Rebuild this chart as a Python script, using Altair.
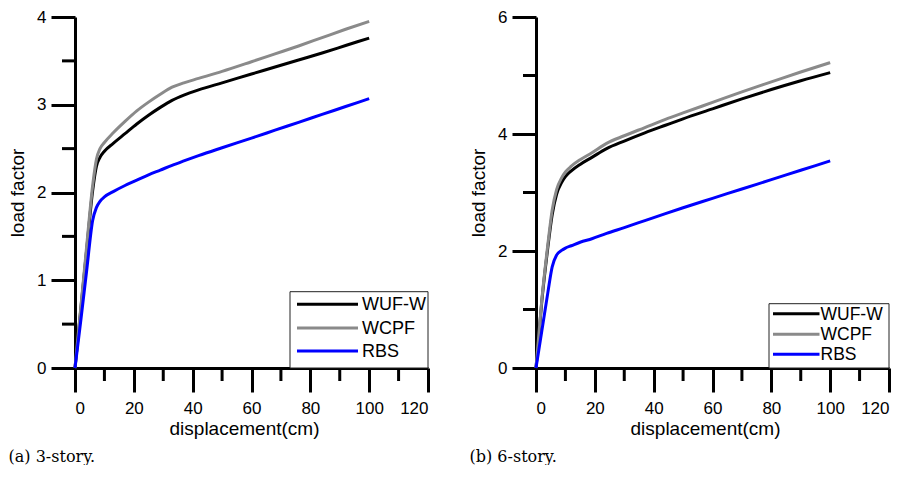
import altair as alt
import pandas as pd

series = ["WUF-W", "WCPF", "RBS"]
colors = ["#000000", "#8a8a8a", "#0000ff"]

# (a) 3-story
disp_3 = [0, 2, 4, 6, 7.3, 8.5, 10, 13, 17, 21, 25, 29, 33, 37, 42, 50, 60, 68, 76, 84, 92, 100]
wufw_3 = [0, 0.68, 1.36, 2.02, 2.30, 2.40, 2.47, 2.56, 2.67, 2.78, 2.88, 2.97, 3.05, 3.11, 3.17, 3.25, 3.35, 3.43, 3.51, 3.59, 3.675, 3.76]
wcpf_3 = [0, 0.70, 1.40, 2.08, 2.38, 2.50, 2.57, 2.68, 2.81, 2.93, 3.03, 3.12, 3.20, 3.25, 3.30, 3.38, 3.49, 3.58, 3.67, 3.765, 3.86, 3.95]
rbs_3 = [0, 0.55, 1.12, 1.68, 1.83, 1.90, 1.95, 2.01, 2.08, 2.14, 2.20, 2.255, 2.31, 2.36, 2.42, 2.51, 2.62, 2.71, 2.80, 2.89, 2.98, 3.07]

# (b) 6-story
disp_6 = [0, 2, 4, 5.5, 7, 8.7, 10, 12, 15, 19, 24, 30, 37, 44, 50, 60, 70, 80, 90, 100]
wufw_6 = [0, 1.15, 2.05, 2.62, 2.97, 3.17, 3.27, 3.37, 3.48, 3.60, 3.75, 3.88, 4.02, 4.15, 4.26, 4.43, 4.60, 4.76, 4.91, 5.05]
wcpf_6 = [0, 1.18, 2.10, 2.70, 3.05, 3.25, 3.35, 3.45, 3.56, 3.68, 3.84, 3.97, 4.11, 4.25, 4.36, 4.54, 4.72, 4.89, 5.06, 5.22]
rbs_6 = [0, 0.64, 1.28, 1.73, 1.93, 2.01, 2.05, 2.09, 2.15, 2.21, 2.30, 2.40, 2.52, 2.64, 2.74, 2.90, 3.06, 3.22, 3.38, 3.54]

x_major = [0, 20, 40, 60, 80, 100, 120]
x_minor = [10, 30, 50, 70, 90, 110]
y3_major = [0, 1, 2, 3, 4]
y3_minor = [0.5, 1.5, 2.5, 3.5]
y6_major = [0, 2, 4, 6]
y6_minor = [1, 3, 5]

W, H = 353, 351
FONT = "Liberation Sans"
ONE = pd.DataFrame({"n": [0]})


def legend_layers(box_left, box_top, sym_x1, sym_x2, text_x, rows, fsize):
    layers = [
        alt.Chart(ONE).mark_rect(fill="white", stroke="#222222", strokeWidth=1).encode(
            x=alt.value(box_left), x2=alt.value(W), y=alt.value(H - box_top), y2=alt.value(H))
    ]
    for name, col, ry in zip(series, colors, rows):
        layers.append(alt.Chart(ONE).mark_rule(color=col, strokeWidth=3).encode(
            x=alt.value(sym_x1), x2=alt.value(sym_x2), y=alt.value(H - ry)))
        layers.append(alt.Chart(ONE).mark_text(
            align="left", baseline="middle", font=FONT, fontSize=fsize, color="black", dy=1
        ).encode(x=alt.value(text_x), y=alt.value(H - ry), text=alt.value(name)))
    return layers


def panel(disp, curves, ymax, ymaj, ymin, caption, leg):
    rows = []
    for name, vals in zip(series, curves):
        for d, v in zip(disp, vals):
            rows.append({"d": d, "L": v, "series": name})
    df = pd.DataFrame(rows)
    xs = alt.Scale(domain=[0, 120], nice=False, zero=False)
    ys = alt.Scale(domain=[0, ymax], nice=False, zero=False)
    xaxis = alt.Axis(values=x_major, title="displacement(cm)", tickSize=24, format="d",
                     labelPadding=8, titlePadding=3, titleX=169, grid=False)
    yaxis = alt.Axis(values=ymaj, title="load factor", tickSize=24, format="d",
                     labelPadding=5, titlePadding=9, grid=False)
    lines = alt.Chart(df).mark_line(strokeWidth=3, interpolate="monotone").encode(
        x=alt.X("d:Q", scale=xs, axis=xaxis),
        y=alt.Y("L:Q", scale=ys, axis=yaxis),
        color=alt.Color("series:N", scale=alt.Scale(domain=series, range=colors), legend=None),
    )
    xm = alt.Chart(pd.DataFrame({"d": x_minor})).mark_rule(color="black", strokeWidth=3).encode(
        x=alt.X("d:Q", scale=xs), y=alt.value(H), y2=alt.value(H + 13))
    ym = alt.Chart(pd.DataFrame({"L": ymin})).mark_rule(color="black", strokeWidth=3).encode(
        y=alt.Y("L:Q", scale=ys), x=alt.value(0), x2=alt.value(-13))
    return alt.layer(xm, ym, lines, *legend_layers(**leg)).properties(
        width=W, height=H,
        title=alt.TitleParams(caption, orient="bottom", anchor="start", frame="bounds",
                              font="DejaVu Serif", fontSize=16, fontWeight="normal",
                              color="black", offset=11),
    )


# legend geometry measured up from the bottom of the plot
leg3 = dict(box_left=215, box_top=76.3, sym_x1=222, sym_x2=283, text_x=287,
            rows=[63.7, 40, 17], fsize=18)
leg6 = dict(box_left=233, box_top=64.3, sym_x1=237, sym_x2=283.5, text_x=284.5,
            rows=[54.3, 33.7, 13.7], fsize=17.5)

left = panel(disp_3, [wufw_3, wcpf_3, rbs_3], 4, y3_major, y3_minor, "(a) 3-story.", leg3)
right = panel(disp_6, [wufw_6, wcpf_6, rbs_6], 6, y6_major, y6_minor, "(b) 6-story.", leg6)

chart = alt.hconcat(left, right, spacing=108, bounds="flush").resolve_scale(
    x="independent", y="independent"
).properties(
    padding={"left": 0, "top": 0, "right": 0, "bottom": 0}
).configure_view(stroke=None).configure_axis(
    labelFont=FONT, labelFontSize=17, labelColor="black",
    titleFont=FONT, titleFontSize=19, titleFontWeight="normal", titleColor="black",
    domainColor="black", domainWidth=3, tickColor="black", tickWidth=3,
)

chart.save("out.html", embed_options={"renderer": "svg", "actions": False})
